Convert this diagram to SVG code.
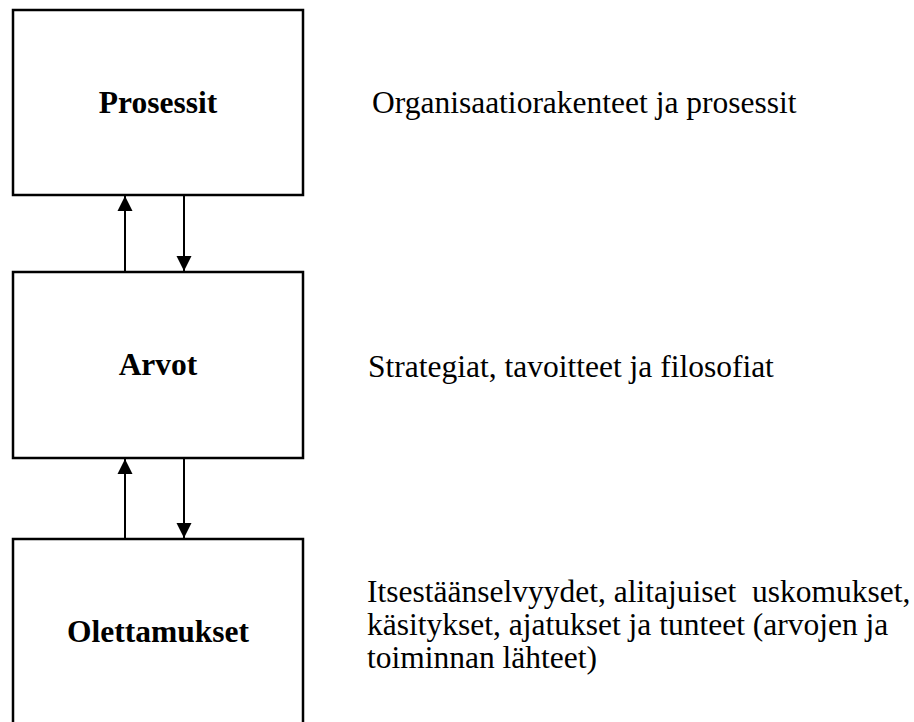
<svg xmlns="http://www.w3.org/2000/svg" width="914" height="722" viewBox="0 0 914 722">
<style>
.box{fill:#fff;stroke:#000;stroke-width:2.5}
.lbl{font-weight:bold;font-size:31.5px;fill:#000;text-anchor:middle}
.txt{font-size:31.5px;fill:#000}
.con{stroke:#000;stroke-width:2;fill:none;marker-end:url(#ah)}
</style>
<defs>
<marker id="ah" markerUnits="userSpaceOnUse" markerWidth="16" markerHeight="16" viewBox="0 0 16 16" refX="15" refY="8" orient="auto">
<path d="M0,0.5 L15,8 L0,15.5 Z" fill="#000"/>
</marker>
</defs>
<rect width="914" height="722" fill="#fff"/>
<g font-family="Liberation Serif, DejaVu Serif, serif">
<g id="node-prosessit">
<rect class="box" x="13" y="10" width="290" height="185"/>
<text class="lbl" x="158" y="113">Prosessit</text>
</g>
<g id="node-arvot">
<rect class="box" x="13" y="272" width="290" height="186"/>
<text class="lbl" x="158" y="375">Arvot</text>
</g>
<g id="node-olettamukset">
<rect class="box" x="13" y="539" width="290" height="200"/>
<text class="lbl" x="158" y="642">Olettamukset</text>
</g>
<g id="desc">
<text class="txt" x="372" y="113">Organisaatiorakenteet ja prosessit</text>
<text class="txt" x="368" y="377">Strategiat, tavoitteet ja filosofiat</text>
<text class="txt" y="602"><tspan x="367">Itsestäänselvyydet, alitajuiset</tspan><tspan x="752">uskomukset,</tspan></text>
<text class="txt" x="367" y="635">käsitykset, ajatukset ja tunteet (arvojen ja</text>
<text class="txt" x="367" y="668">toiminnan lähteet)</text>
</g>
</g>
<g id="connectors">
<line class="con" x1="125" y1="272" x2="125" y2="196"/>
<line class="con" x1="184" y1="195" x2="184" y2="271"/>
<line class="con" x1="125" y1="539" x2="125" y2="459"/>
<line class="con" x1="184" y1="458" x2="184" y2="538"/>
</g>
</svg>
